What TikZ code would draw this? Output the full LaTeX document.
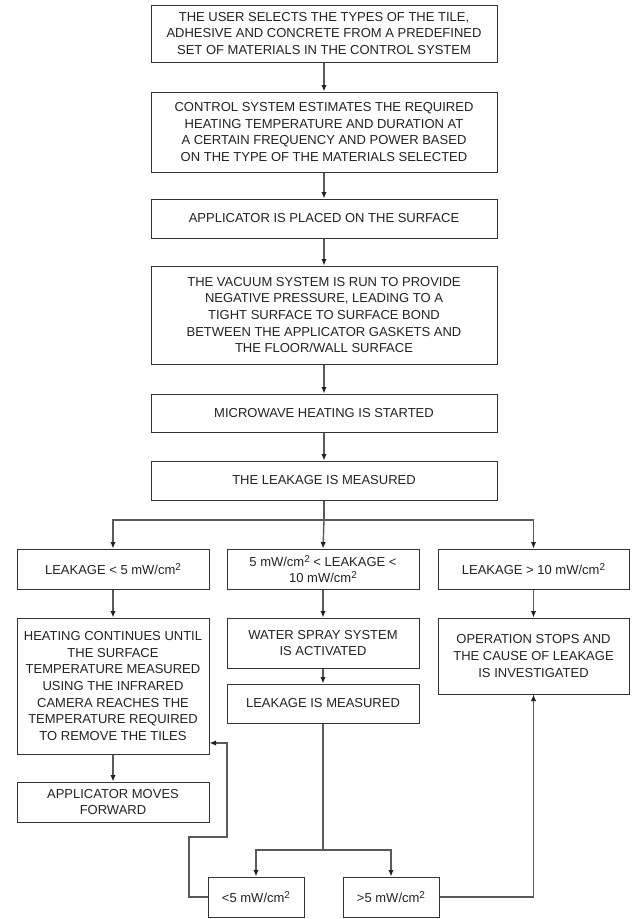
\documentclass[tikz,border=0pt]{standalone}
\usepackage{fontspec}
\setmainfont{Liberation Sans}
\usetikzlibrary{arrows.meta}
\definecolor{ink}{HTML}{222222}
\definecolor{edge}{HTML}{333333}
\definecolor{wire}{HTML}{5A5A5A}
\tikzset{
  box/.style={draw=edge, line width=1pt, inner sep=0pt, align=center, text=ink,
    font=\fontsize{13}{16.6}\selectfont},
  arr/.style={draw=wire, line width=1.4pt, -{Latex[length=6.5pt,width=5.5pt,color=ink]}},
  wireline/.style={draw=wire, line width=1.4pt},
}
\newcommand{\sqcm}{mW/cm\raisebox{0.55ex}{\fontsize{10}{10}\selectfont 2}}
\begin{document}
\begin{tikzpicture}[x=1pt,y=-1pt]
\useasboundingbox (0,0) rectangle (641,919);
% main column
\node[box, minimum width=346, minimum height=57] (b1) at (324,33.5)
  {THE USER SELECTS THE TYPES OF THE TILE,\\ADHESIVE AND CONCRETE FROM A PREDEFINED\\SET OF MATERIALS IN THE CONTROL SYSTEM};
\node[box, minimum width=346, minimum height=80] (b2) at (324,132)
  {CONTROL SYSTEM ESTIMATES THE REQUIRED\\HEATING TEMPERATURE AND DURATION AT\\A CERTAIN FREQUENCY AND POWER BASED\\ON THE TYPE OF THE MATERIALS SELECTED};
\node[box, minimum width=346, minimum height=39] (b3) at (324,218.5)
  {APPLICATOR IS PLACED ON THE SURFACE};
\node[box, minimum width=346, minimum height=98] (b4) at (324,315)
  {THE VACUUM SYSTEM IS RUN TO PROVIDE\\NEGATIVE PRESSURE, LEADING TO A\\TIGHT SURFACE TO SURFACE BOND\\BETWEEN THE APPLICATOR GASKETS AND\\THE FLOOR/WALL SURFACE};
\node[box, minimum width=346, minimum height=38] (b5) at (324,413)
  {MICROWAVE HEATING IS STARTED};
\node[box, minimum width=346, minimum height=39] (b6) at (324,480.5)
  {THE LEAKAGE IS MEASURED};
% row 1
\node[box, minimum width=192, minimum height=40] (l1) at (113,569)
  {LEAKAGE < 5 \sqcm};
\node[box, minimum width=192, minimum height=40] (m1) at (323,569)
  {5 \sqcm{} < LEAKAGE <\\10 \sqcm};
\node[box, minimum width=191, minimum height=40] (r1) at (533.5,569)
  {LEAKAGE > 10 \sqcm};
% row 2
\node[box, minimum width=192, minimum height=136] (l2) at (113,686)
  {HEATING CONTINUES UNTIL\\THE SURFACE\\TEMPERATURE MEASURED\\USING THE INFRARED\\CAMERA REACHES THE\\TEMPERATURE REQUIRED\\TO REMOVE THE TILES};
\node[box, minimum width=192, minimum height=50] (m2) at (323,643)
  {WATER SPRAY SYSTEM\\IS ACTIVATED};
\node[box, minimum width=192, minimum height=39] (m3) at (323,703.5)
  {LEAKAGE IS MEASURED};
\node[box, minimum width=191, minimum height=76] (r2) at (533.5,656)
  {OPERATION STOPS AND\\THE CAUSE OF LEAKAGE\\IS INVESTIGATED};
\node[box, minimum width=192, minimum height=40] (l3) at (113,802)
  {APPLICATOR MOVES\\FORWARD};
% bottom
\node[box, minimum width=96, minimum height=40] (lo) at (256,897)
  {<5 \sqcm};
\node[box, minimum width=96, minimum height=40] (hi) at (391,897)
  {>5 \sqcm};
% connectors main column
\draw[arr] (b1) -- (b2);
\draw[arr] (b2) -- (b3);
\draw[arr] (b3) -- (b4);
\draw[arr] (b4) -- (b5);
\draw[arr] (b5) -- (b6);
\coordinate (br1) at (324,520);
\draw[wireline] (b6.south) -- (br1);
\draw[arr] (br1) -| (l1.north);
\draw[arr] (br1) -- (m1.north);
\draw[arr] (br1) -| (r1.north);
\draw[arr] (l1) -- (l2);
\draw[arr] (m1) -- (m2);
\draw[arr] (r1) -- (r2);
\draw[arr] (m2) -- (m3);
\draw[arr] (l2) -- (l3);
% bottom branch
\coordinate (br2) at (323,850);
\draw[wireline] (m3.south) -- (br2);
\draw[arr] (br2) -| (lo.north);
\draw[arr] (br2) -| (hi.north);
% loop back
\coordinate (lp1) at (189,837);
\coordinate (lp2) at (227,743);
\draw[arr] (lo.west) -| (lp1) -| (lp2) -- (l2.east |- lp2);
\draw[arr] (hi.east) -| (r2.south);
\end{tikzpicture}
\end{document}
